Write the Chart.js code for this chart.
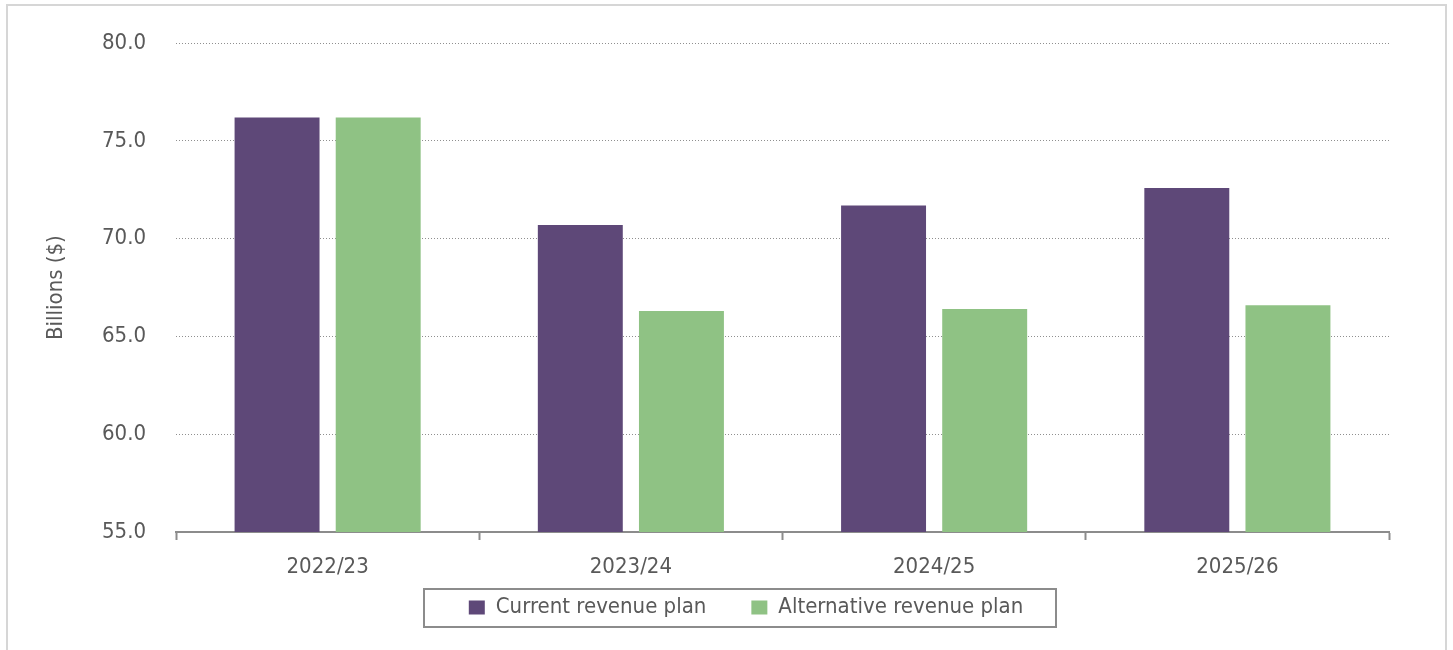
<!DOCTYPE html>
<html>
<head>
<meta charset="utf-8">
<script src="https://cdn.jsdelivr.net/npm/chart.js@4.4.0/dist/chart.umd.min.js"></script>
<style>
  html, body { margin: 0; padding: 0; background: #fff; overflow: hidden; }
  #wrap { width: 1453px; height: 650px; }
</style>
</head>
<body>
<div id="wrap"><canvas id="revenueChart"></canvas></div>
<script>
// Data
const years = ['2022/23', '2023/24', '2024/25', '2025/26'];
const currentPlan = [76.2, 70.7, 71.7, 72.6];
const alternativePlan = [76.2, 66.3, 66.4, 66.6];
const seriesNames = ['Current revenue plan', 'Alternative revenue plan'];
const yTicks = { min: 55, max: 80, step: 5 };

const FONT = "'Liberation Sans Narrow', 'Arial Narrow', 'DejaVu Sans Condensed', sans-serif";
const FONT_SIZE = 22;
const TEXT = '#595959';
const LEGEND_PAD = 45;

// frame around the whole figure + box around the legend
const framePlugin = {
    id: 'frames',
    afterLayout(chart) {
        // legend sits right of the canvas centre and tucked under the axis labels
        const lg = chart.legend;
        const dx = 746 - (lg.left + lg.right) / 2;
        const dy = 607.5 - (lg.top + LEGEND_PAD + FONT_SIZE / 2);
        lg.left += dx;
        lg.right += dx;
        lg.top += dy;
        lg.bottom += dy;
    },
    afterDraw(chart) {
        const ctx = chart.ctx;
        ctx.save();
        ctx.strokeStyle = '#d6d6d6';
        ctx.lineWidth = 2;
        ctx.strokeRect(7, 5, chart.width - 14, chart.height + 20);

        const boxes = chart.legend.legendHitBoxes;
        if (boxes && boxes.length) {
            const l = Math.min(...boxes.map(b => b.left)) - 45;
            const r = Math.max(...boxes.map(b => b.left + b.width)) + 33;
            const t = Math.min(...boxes.map(b => b.top)) - 8;
            const btm = Math.max(...boxes.map(b => b.top + b.height)) + 8;
            ctx.strokeStyle = '#8c8c8c';
            ctx.lineWidth = 2;
            ctx.strokeRect(Math.round(l), Math.round(t), Math.round(r - l), Math.round(btm - t));
        }
        ctx.restore();
    }
};

const ctx = document.getElementById('revenueChart').getContext('2d');

new Chart(ctx, {
    type: 'bar',
    data: {
        labels: years,
        datasets: [
            {
                label: seriesNames[0],
                data: currentPlan,
                backgroundColor: '#5e4878',
                categoryPercentage: 0.667,
                barPercentage: 0.84
            },
            {
                label: seriesNames[1],
                data: alternativePlan,
                backgroundColor: '#8fc284',
                categoryPercentage: 0.667,
                barPercentage: 0.84
            }
        ]
    },
    options: {
        responsive: true,
        maintainAspectRatio: false,
        animation: false,
        layout: {
            padding: { left: 0, right: 64, top: 41, bottom: -9 }
        },
        plugins: {
            tooltip: { enabled: false },
            legend: {
                position: 'bottom',
                labels: {
                    boxWidth: 16,
                    boxHeight: 14,
                    padding: LEGEND_PAD,
                    color: TEXT,
                    font: { family: FONT, size: FONT_SIZE }
                }
            }
        },
        scales: {
            x: {
                afterFit(scale) { scale.height = 50; },
                grid: {
                    offset: true,
                    drawOnChartArea: false,
                    drawTicks: true,
                    tickLength: 8,
                    tickWidth: 2,
                    tickColor: '#8c8c8c',
                    color: '#8c8c8c'
                },
                border: { display: true, color: '#8c8c8c', width: 2 },
                ticks: {
                    color: TEXT,
                    padding: 14,
                    font: { family: FONT, size: FONT_SIZE }
                }
            },
            y: {
                min: yTicks.min,
                max: yTicks.max,
                afterFit(scale) { scale.width = 176; },
                grid: {
                    drawTicks: false,
                    color: '#8f8f8f',
                    lineWidth: 1
                },
                border: { display: false, dash: [1, 2] },
                ticks: {
                    stepSize: yTicks.step,
                    padding: 30,
                    color: TEXT,
                    font: { family: FONT, size: FONT_SIZE },
                    callback: v => v.toFixed(1)
                },
                title: {
                    display: true,
                    text: 'Billions ($)',
                    color: TEXT,
                    padding: { top: 43, bottom: 0 },
                    font: { family: FONT, size: FONT_SIZE }
                }
            }
        }
    },
    plugins: [framePlugin]
});
</script>
</body>
</html>
